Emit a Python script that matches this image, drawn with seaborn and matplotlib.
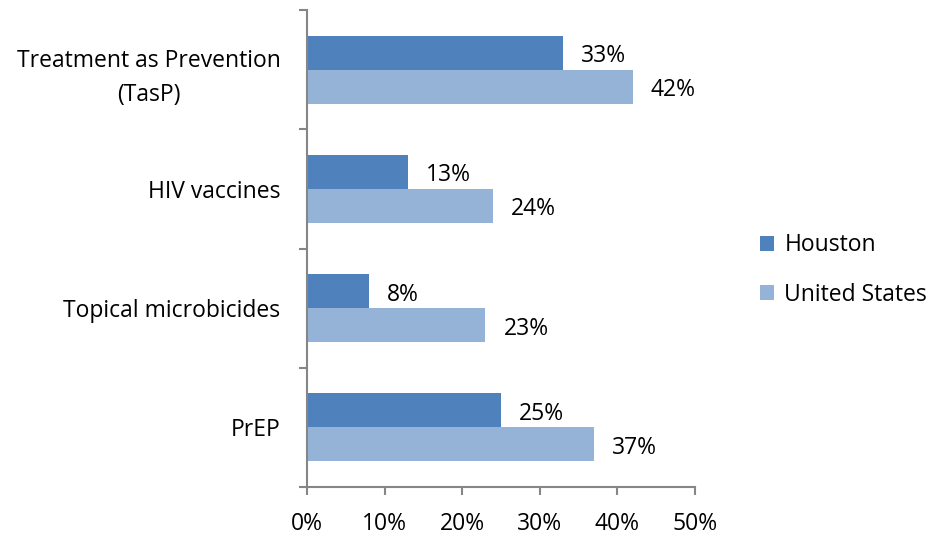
import matplotlib
matplotlib.use("Agg")
import matplotlib.pyplot as plt
import seaborn as sns
import pandas as pd
import numpy as np
from matplotlib.ticker import FixedLocator, PercentFormatter

categories = ["Treatment as Prevention\n(TasP)", "HIV vaccines", "Topical microbicides", "PrEP"]
series = ["Houston", "United States"]
houston = [33, 13, 8, 25]
united_states = [42, 24, 23, 37]
x_ticks = [0, 10, 20, 30, 40, 50]

rows = []
for c, h, u in zip(categories, houston, united_states):
    rows.append({"category": c, "series": "Houston", "value": h})
    rows.append({"category": c, "series": "United States", "value": u})
df = pd.DataFrame(rows)

sns.set_theme(style="white")
plt.rcParams["font.family"] = ["Open Sans", "DejaVu Sans"]
plt.rcParams["text.color"] = "black"
plt.rcParams["xtick.labelcolor"] = "black"
plt.rcParams["ytick.labelcolor"] = "black"
FS = 16.5

fig = plt.figure(figsize=(9.33, 5.37), dpi=100)
ax = fig.add_axes([307/933, 1-487/537, (695-307)/933, (487-10)/537])

palette = {"Houston": "#4F81BD", "United States": "#95B3D7"}
sns.barplot(data=df, y="category", x="value", hue="series", order=categories,
            hue_order=series, palette=palette, orient="h", width=0.57,
            saturation=1, ax=ax, edgecolor="none")

for cont in ax.containers:
    for bar in cont:
        w = bar.get_width()
        ax.annotate(f"{w:.0f}%", xy=(w, bar.get_y() + bar.get_height()/2),
                    xytext=(13, -2.5), textcoords="offset points",
                    ha="left", va="center", fontsize=FS, color="black")

ax.set_xlim(0, 50)
ax.set_ylim(len(categories) - 0.5, -0.5)
ax.set_xticks(x_ticks)
ax.xaxis.set_major_formatter(PercentFormatter(decimals=0))
ax.set_xlabel("")
ax.set_ylabel("")

ax.yaxis.set_minor_locator(FixedLocator(np.arange(-0.5, len(categories), 1.0)))
ax.tick_params(axis="y", which="major", length=0, pad=19, labelsize=FS, labelcolor="black")
ax.tick_params(axis="y", which="minor", length=6, width=1.5, color="#868686", left=True)
ax.tick_params(axis="x", which="major", length=6, width=1.5, color="#868686", bottom=True,
               labelsize=FS, pad=12, labelcolor="black")
for lab in ax.get_yticklabels():
    lab.set_multialignment("center")
    lab.set_linespacing(1.55)

for s in ["top", "right"]:
    ax.spines[s].set_visible(False)
for s in ["left", "bottom"]:
    ax.spines[s].set_color("#868686")
    ax.spines[s].set_linewidth(1.5)

leg = ax.legend(loc="center left", bbox_to_anchor=(1.115, 0.455), frameon=False,
                fontsize=FS, handlelength=0.6, handleheight=0.6, handletextpad=0.45,
                labelspacing=1.1)
for t in leg.get_texts():
    t.set_color("black")

fig.savefig("out.png", dpi=100, facecolor="white")
